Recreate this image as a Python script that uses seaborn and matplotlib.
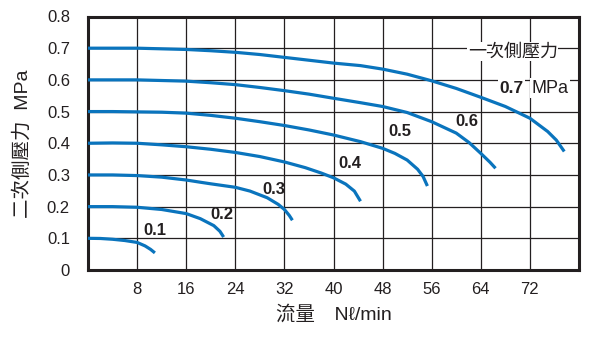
import numpy as np
import pandas as pd
import matplotlib
matplotlib.use("Agg")
import matplotlib.pyplot as plt
import seaborn as sns

# ---- data ----
pressures = ["0.1", "0.2", "0.3", "0.4", "0.5", "0.6", "0.7"]
flow_01 = [0, 2, 4, 6, 8, 9.3, 10.2, 10.9]
pres_01 = [0.100, 0.0995, 0.097, 0.093, 0.087, 0.076, 0.065, 0.054]
flow_02 = [0, 4, 8, 12, 16, 18.3, 20.5, 21.5, 22.1]
pres_02 = [0.200, 0.200, 0.198, 0.191, 0.178, 0.162, 0.140, 0.122, 0.104]
flow_03 = [0, 4, 8, 12, 16, 18.3, 20, 24, 26.4, 29.2, 31, 32, 32.8, 33.3]
pres_03 = [0.300, 0.300, 0.298, 0.293, 0.284, 0.277, 0.272, 0.261, 0.249, 0.228, 0.207,
           0.191, 0.172, 0.157]
flow_04 = [0, 4, 8, 12, 16, 20, 24, 28, 32, 35.4, 38, 40, 42, 43.4, 44.4]
pres_04 = [0.400, 0.401, 0.400, 0.395, 0.389, 0.381, 0.371, 0.358, 0.341, 0.323, 0.306,
           0.291, 0.271, 0.249, 0.217]
flow_05 = [0, 4, 8, 12, 16, 20, 24, 28, 32, 36, 40, 44.4, 48, 50, 52, 53.7, 54.6, 55.3]
pres_05 = [0.500, 0.500, 0.499, 0.498, 0.495, 0.488, 0.479, 0.468, 0.456, 0.442, 0.426, 0.405,
           0.384, 0.368, 0.347, 0.318, 0.295, 0.265]
flow_06 = [0, 4, 8, 12, 16, 20, 24, 28, 32, 36, 40, 44.4, 48, 52, 56, 60, 62.1, 64, 65.5, 66.4]
pres_06 = [0.600, 0.600, 0.600, 0.598, 0.596, 0.591, 0.585, 0.576, 0.566, 0.555, 0.542, 0.528,
           0.516, 0.497, 0.468, 0.432, 0.402, 0.368, 0.340, 0.321]
flow_07 = [0, 4, 8, 12, 16, 20, 24, 28, 32, 36, 40, 44.4, 48, 52, 56, 60, 64, 68, 72,
           74.9, 76.3, 77.6]
pres_07 = [0.700, 0.700, 0.700, 0.698, 0.696, 0.692, 0.687, 0.680, 0.671, 0.662, 0.653, 0.645,
           0.634, 0.618, 0.597, 0.573, 0.545, 0.516, 0.479, 0.437, 0.410, 0.374]

x_ticks = [0, 8, 16, 24, 32, 40, 48, 56, 64, 72, 80]
x_tick_labels = ["", "8", "16", "24", "32", "40", "48", "56", "64", "72", ""]
y_ticks = [0, 0.1, 0.2, 0.3, 0.4, 0.5, 0.6, 0.7, 0.8]
y_tick_labels = ["0", "0.1", "0.2", "0.3", "0.4", "0.5", "0.6", "0.7", "0.8"]

flows = [flow_01, flow_02, flow_03, flow_04, flow_05, flow_06, flow_07]
press = [pres_01, pres_02, pres_03, pres_04, pres_05, pres_06, pres_07]
frames = [pd.DataFrame({"flow": f, "p2": p, "p1": name})
          for f, p, name in zip(flows, press, pressures)]
df = pd.concat(frames, ignore_index=True)

# ---- styling ----
sns.set_theme(style="white")
plt.rcParams["font.family"] = ["Liberation Sans", "Noto Sans CJK TC", "DejaVu Sans"]
cjk = ["Noto Sans CJK TC", "Liberation Sans", "DejaVu Sans"]
ink = "#231f20"

fig = plt.figure(figsize=(5.89, 3.38), dpi=100)
ax = fig.add_axes([88 / 589, 1 - 270 / 338, (579 - 88) / 589, (270 - 16.5) / 338])

blue = "#0a74bd"
sns.lineplot(data=df, x="flow", y="p2", hue="p1", units="p1", estimator=None,
             palette=[blue] * len(pressures), legend=False, sort=False,
             linewidth=2.3, ax=ax, zorder=3, solid_capstyle="butt", solid_joinstyle="round")

ax.set_xlim(0, 80)
ax.set_ylim(0, 0.8)
ax.set_xticks(x_ticks)
ax.set_xticklabels(x_tick_labels)
ax.set_yticks(y_ticks)
ax.set_yticklabels(y_tick_labels)
ax.tick_params(axis="x", length=0, pad=9, labelsize=12, colors=ink)
ax.tick_params(axis="y", length=0, pad=13, labelsize=12, colors=ink)
ax.grid(True, color=ink, linewidth=0.9)
ax.set_axisbelow(True)
for s in ax.spines.values():
    s.set_visible(True)
    s.set_color(ink)
    s.set_linewidth(2.2)

ax.set_xlabel("流量\u3000Nℓ/min", fontsize=14, color=ink, labelpad=5)
ax.set_ylabel("二次側壓力  MPa", fontsize=14, color=ink, labelpad=11)

# curve labels
lbl = dict(fontsize=12, fontweight="bold", color=ink, ha="center", va="center", zorder=4)
label_pos = [(10.9, 0.126), (21.8, 0.174), (30.3, 0.255), (42.7, 0.337),
             (50.8, 0.437), (61.7, 0.468)]
for name, (lx, ly) in zip(pressures[:6], label_pos):
    ax.text(lx, ly, name, **lbl)

bb = dict(facecolor="white", edgecolor="none", pad=1.0)
ax.text(67.1, 0.574, "0.7", fontsize=12.5, fontweight="bold", color=ink,
        ha="left", va="center", bbox=bb, zorder=4)
ax.text(72.3, 0.574, "MPa", fontsize=13, color=ink,
        ha="left", va="center", bbox=bb, zorder=4)
ax.text(69.2, 0.689, "一次側壓力", family=cjk, fontsize=13, color=ink,
        ha="center", va="center", bbox=dict(facecolor="white", edgecolor="none", pad=0.5),
        zorder=4)

fig.savefig("out.png", dpi=100)
